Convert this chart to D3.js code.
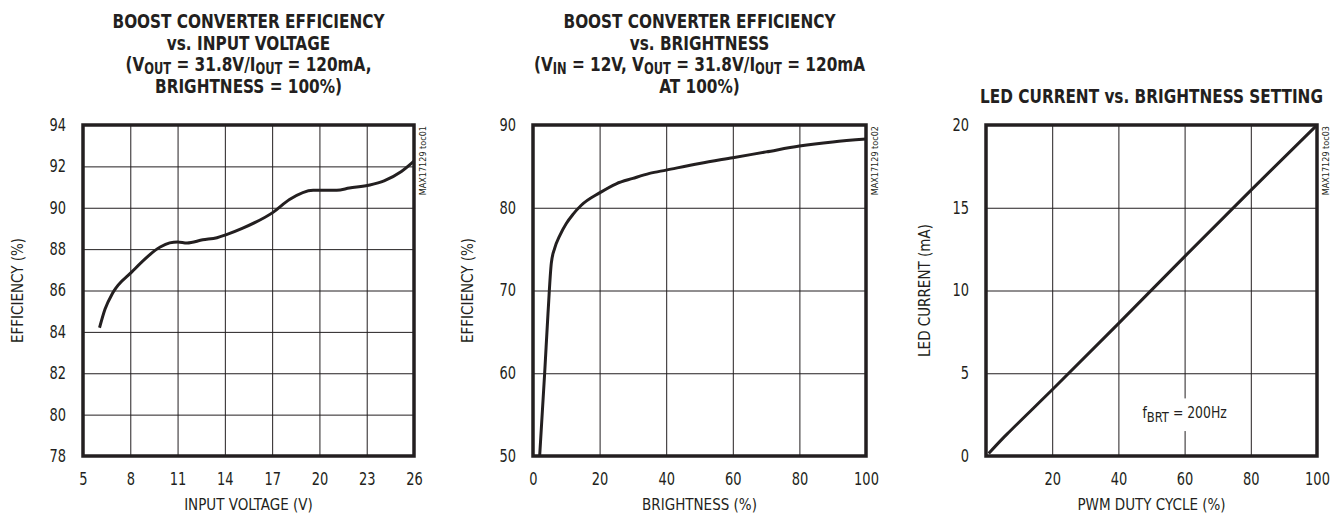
<!DOCTYPE html>
<html>
<head>
<meta charset="utf-8">
<script src="https://cdn.jsdelivr.net/npm/d3@7"></script>
<style>
  body { margin: 0; background: #fff; }
  svg { display: block; }
  svg text { font-family: "DejaVu Sans Condensed", "DejaVu Sans", sans-serif; font-stretch: condensed; }
  .tick text { font-size: 17px; fill: #231f20; }
  .grid .tick line { stroke: #231f20; stroke-width: 1; }
  .domain { display: none; }
</style>
</head>
<body>
<div id="chart"></div>
<script>
// chart 1: efficiency vs input voltage
var vinX = [6.05, 6.4, 6.9, 8.1, 9.9, 10.5, 11.0, 11.6, 12.6, 13.5, 14.1, 15.1, 17.1, 18.1, 19.6, 21.1, 21.9, 23.2, 24.1, 25.2, 26];
var vinEff = [84.2, 85.1, 85.9, 86.9, 88.1, 88.3, 88.35, 88.3, 88.45, 88.55, 88.7, 89.0, 89.8, 90.4, 90.85, 90.85, 90.95, 91.1, 91.3, 91.75, 92.25];
var vinTicks = [5, 8, 11, 14, 17, 20, 23, 26];
var vinEffTicks = [78, 80, 82, 84, 86, 88, 90, 92, 94];

// chart 2: efficiency vs brightness
var brtX = [2.0, 3.5, 4.5, 5.5, 6.5, 8.0, 10.0, 12.0, 14.5, 20.0, 25.0, 30.0, 35.0, 40.0, 50.0, 60.0, 70.0, 80.0, 90.0, 100];
var brtEff = [50, 60, 67.2, 73.3, 75.1, 76.6, 78.1, 79.2, 80.3, 81.8, 82.9, 83.55, 84.15, 84.55, 85.35, 86.05, 86.75, 87.45, 87.95, 88.3];
var brtTicks = [0, 20, 40, 60, 80, 100];
var brtEffTicks = [50, 60, 70, 80, 90];

// chart 3: LED current vs duty cycle
var dutyX = [0.8, 5, 7, 20, 40, 60, 80, 100];
var ledmA = [0.15, 1.05, 1.45, 4, 8, 12.05, 16.05, 20];
var dutyTicks = [20, 40, 60, 80, 100];
var ledTicks = [0, 5, 10, 15, 20];

var titles1 = ["BOOST CONVERTER EFFICIENCY", "vs. INPUT VOLTAGE", "(V_{OUT} = 31.8V/I_{OUT} = 120mA,", "BRIGHTNESS = 100%)"];
var titles2 = ["BOOST CONVERTER EFFICIENCY", "vs. BRIGHTNESS", "(V_{IN} = 12V, V_{OUT} = 31.8V/I_{OUT} = 120mA", "AT 100%)"];
var titles3 = ["LED CURRENT vs. BRIGHTNESS SETTING"];

var W = 1330, H = 514;
var plotTop = 125, plotBottom = 456;
var ink = "#231f20";
var squeeze = 0.85;   // reference font is a narrow condensed face

var svg = d3.select("#chart").append("svg")
    .attr("width", W)
    .attr("height", H);

function addText(sel, str, subSize) {
    // split "V_{OUT}" style markers into subscripts
    var parts = str.split(/_\{([^}]*)\}/);
    var shift = 0;
    parts.forEach(function(p, i) {
        if (p === "") return;
        if (i % 2 === 1) {
            sel.append("tspan").attr("font-size", subSize).attr("dy", 3 + shift).text(p);
            shift = -3;
        } else {
            sel.append("tspan").attr("dy", shift).text(p);
            shift = 0;
        }
    });
}

function squeezeTicks(sel) {
    sel.selectAll(".tick text").attr("transform", "scale(" + squeeze + ",1)");
}

function panel(o) {
    var g = svg.append("g");
    var x = d3.scaleLinear().domain(o.xDomain).range([o.x0, o.x1]);
    var y = d3.scaleLinear().domain(o.yDomain).range([plotBottom, plotTop]);

    g.append("g")
        .attr("class", "grid")
        .attr("transform", "translate(0," + plotBottom + ")")
        .call(d3.axisBottom(x).tickValues(o.xTicks).tickSize(-(plotBottom - plotTop)).tickPadding(17).tickFormat(d3.format("d")))
        .call(squeezeTicks);

    g.append("g")
        .attr("class", "grid")
        .attr("transform", "translate(" + o.x0 + ",0)")
        .call(d3.axisLeft(y).tickValues(o.yTicks).tickSize(-(o.x1 - o.x0)).tickPadding(17 / squeeze).tickFormat(d3.format("d")))
        .call(squeezeTicks);

    if (o.note) {
        var bg = g.append("rect").attr("fill", "#fff");
        var note = g.append("text")
            .attr("transform", "translate(" + x(o.note.x) + "," + y(o.note.y) + ") scale(0.92,1)")
            .attr("text-anchor", "middle")
            .attr("font-size", 15)
            .attr("fill", ink);
        note.append("tspan").text("f");
        note.append("tspan").attr("font-size", 14).attr("dy", 4).text("BRT");
        note.append("tspan").attr("dy", -4).text(" = 200Hz");
        var bb = note.node().getBBox();
        bg.attr("x", x(o.note.x) - bb.width * 0.46 - 4).attr("y", y(o.note.y) + bb.y - 6)
            .attr("width", bb.width * 0.92 + 8).attr("height", bb.height + 12);
    }

    g.append("path")
        .datum(o.xs.map(function(d, i) { return [d, o.ys[i]]; }))
        .attr("fill", "none")
        .attr("stroke", ink)
        .attr("stroke-width", 3)
        .attr("stroke-linejoin", "round")
        .attr("d", d3.line().x(function(d) { return x(d[0]); }).y(function(d) { return y(d[1]); }).curve(d3.curveMonotoneX));

    g.append("rect")
        .attr("x", o.x0).attr("y", plotTop)
        .attr("width", o.x1 - o.x0).attr("height", plotBottom - plotTop)
        .attr("fill", "none")
        .attr("stroke", ink)
        .attr("stroke-width", 3.5);

    var cx = (o.x0 + o.x1) / 2;
    o.titles.forEach(function(t, i) {
        var tx = g.append("text")
            .attr("transform", "translate(" + cx + "," + (o.titleY + i * 21.5) + ") scale(" + squeeze + ",1)")
            .attr("text-anchor", "middle")
            .attr("font-weight", "bold")
            .attr("font-size", 20)
            .attr("fill", ink);
        addText(tx, t, 15);
    });

    g.append("text")
        .attr("x", cx)
        .attr("y", 510)
        .attr("text-anchor", "middle")
        .attr("font-size", 15)
        .attr("fill", ink)
        .text(o.xLabel);

    g.append("text")
        .attr("transform", "translate(" + o.yLabelX + "," + ((plotTop + plotBottom) / 2) + ") rotate(-90)")
        .attr("text-anchor", "middle")
        .attr("dy", "0.35em")
        .attr("font-size", 15)
        .attr("fill", ink)
        .text(o.yLabel);

    g.append("text")
        .attr("transform", "translate(" + (o.x1 + 9) + "," + (plotTop + 1) + ") rotate(-90)")
        .attr("text-anchor", "end")
        .attr("dy", "0.35em")
        .attr("font-size", 9)
        .attr("fill", ink)
        .text(o.code);
}

panel({
    x0: 83, x1: 414, xDomain: [5, 26], yDomain: [78, 94],
    xTicks: vinTicks, yTicks: vinEffTicks, xs: vinX, ys: vinEff,
    titles: titles1, titleY: 28,
    xLabel: "INPUT VOLTAGE (V)", yLabel: "EFFICIENCY (%)", yLabelX: 18,
    code: "MAX17129 toc01"
});

panel({
    x0: 533, x1: 866, xDomain: [0, 100], yDomain: [50, 90],
    xTicks: brtTicks, yTicks: brtEffTicks, xs: brtX, ys: brtEff,
    titles: titles2, titleY: 28,
    xLabel: "BRIGHTNESS (%)", yLabel: "EFFICIENCY (%)", yLabelX: 468,
    code: "MAX17129 toc02"
});

panel({
    x0: 986, x1: 1317, xDomain: [0, 100], yDomain: [0, 20],
    xTicks: dutyTicks, yTicks: ledTicks, xs: dutyX, ys: ledmA,
    titles: titles3, titleY: 103,
    xLabel: "PWM DUTY CYCLE (%)", yLabel: "LED CURRENT (mA)", yLabelX: 925,
    code: "MAX17129 toc03",
    note: { x: 60, y: 2.3 }
});
</script>
</body>
</html>
